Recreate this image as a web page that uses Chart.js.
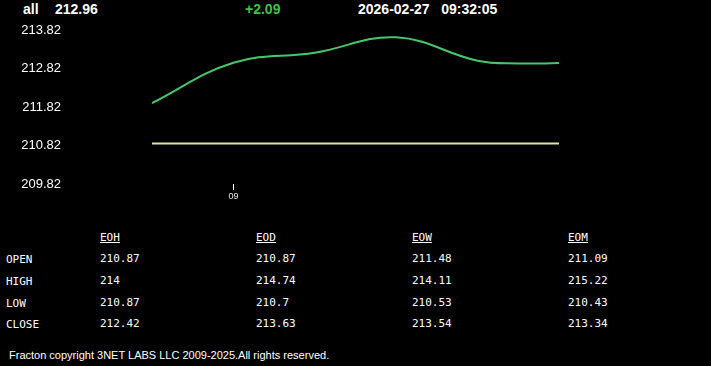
<!DOCTYPE html>
<html>
<head>
<meta charset="utf-8">
<script src="https://cdn.jsdelivr.net/npm/chart.js@4.4.1/dist/chart.umd.min.js"></script>
<style>
  html, body { margin: 0; padding: 0; background: #000; width: 711px; height: 366px; overflow: hidden; }
  .hdr { position: absolute; top: 1px; font: bold 14px "Liberation Sans", Arial, sans-serif; color: #fff; white-space: pre; }
  #chartWrap { position: absolute; left: 0; top: 0; width: 711px; height: 205px; }
  .cell { position: absolute; font: 11px "DejaVu Sans Mono", monospace; color: #fff; white-space: pre; }
  .cell.head { text-decoration: underline; }
  #foot { position: absolute; left: 9px; top: 349px; font: 11px "Liberation Sans", Arial, sans-serif; color: #fff; }
</style>
</head>
<body>
<div class="hdr" style="left:23px">all</div>
<div class="hdr" id="last" style="left:55px"></div>
<div class="hdr" id="chg" style="left:245px;color:#3ec43e"></div>
<div class="hdr" id="stamp" style="left:358px"></div>
<div id="chartWrap"><canvas id="myChart" width="711" height="205"></canvas></div>
<div id="table"></div>
<div id="foot">Fracton copyright 3NET LABS LLC 2009-2025.All rights reserved.</div>
<script>
// price track (time -> price)
const times = ['08:52', '09:00', '09:08', '09:16', '09:24', '09:28', '09:32'];
const prices = [211.92, 212.97, 213.23, 213.63, 213.02, 212.95, 212.96];
const openPrice = 210.87;
const yTicks = [209.82, 210.82, 211.82, 212.82, 213.82];
const xTickLabels = { '09:00': '09' };

// summary table
const periods = ['EOH', 'EOD', 'EOW', 'EOM'];
const rowNames = ['OPEN', 'HIGH', 'LOW', 'CLOSE'];
const openVals = ['210.87', '210.87', '211.48', '211.09'];
const highVals = ['214', '214.74', '214.11', '215.22'];
const lowVals = ['210.87', '210.7', '210.53', '210.43'];
const closeVals = ['212.42', '213.63', '213.54', '213.34'];

const stampText = '2026-02-27   09:32:05';

const toMin = t => { const p = t.split(':'); return (+p[0]) * 60 + (+p[1]); };
const t0 = toMin(times[0]);

document.getElementById('last').textContent = prices[prices.length - 1].toFixed(2);
const change = prices[prices.length - 1] - openPrice;
document.getElementById('chg').textContent = (change >= 0 ? '+' : '') + change.toFixed(2);
document.getElementById('stamp').textContent = stampText;

// table
const tbl = document.getElementById('table');
const rows = [openVals, highVals, lowVals, closeVals];
const colX = [100, 256, 412, 568];
const rowY = [231, 252, 274, 296, 317];
periods.forEach((p, i) => {
  const d = document.createElement('div');
  d.className = 'cell head';
  d.style.left = colX[i] + 'px';
  d.style.top = rowY[0] + 'px';
  d.textContent = p;
  tbl.appendChild(d);
});
rowNames.forEach((n, r) => {
  const d = document.createElement('div');
  d.className = 'cell';
  d.style.left = '6px';
  d.style.top = (rowY[r + 1] + 1) + 'px';
  d.textContent = n;
  tbl.appendChild(d);
  rows[r].forEach((v, i) => {
    const c = document.createElement('div');
    c.className = 'cell';
    c.style.left = colX[i] + 'px';
    c.style.top = rowY[r + 1] + 'px';
    c.textContent = v;
    tbl.appendChild(c);
  });
});

const ctx = document.getElementById('myChart').getContext('2d');
new Chart(ctx, {
  type: 'line',
  data: {
    datasets: [
      {
        data: times.map((t, i) => ({ x: toMin(t) - t0, y: prices[i] })),
        borderColor: '#46c86a',
        borderWidth: 2,
        pointRadius: 0,
        tension: 0.4
      },
      {
        data: [{ x: 0, y: openPrice }, { x: toMin(times[times.length - 1]) - t0, y: openPrice }],
        borderColor: '#dfe696',
        borderWidth: 2,
        pointRadius: 0
      }
    ]
  },
  options: {
    responsive: false,
    devicePixelRatio: 1,
    animation: false,
    layout: { padding: { top: 30, right: 152, left: 0, bottom: 0 } },
    plugins: { legend: { display: false }, tooltip: { enabled: false } },
    scales: {
      x: {
        type: 'linear',
        min: 0,
        max: toMin(times[times.length - 1]) - t0,
        afterBuildTicks: s => {
          s.ticks = Object.keys(xTickLabels).map(t => ({ value: toMin(t) - t0 }));
        },
        afterFit: s => { s.height = 21; },
        border: { display: false },
        grid: { drawOnChartArea: false, color: '#fff', tickLength: 6, tickWidth: 1 },
        ticks: {
          color: '#e8e8e8',
          font: { size: 9, family: 'Liberation Sans, Arial' },
          padding: 1,
          autoSkip: false,
          maxRotation: 0,
          callback: v => {
            const hit = Object.keys(xTickLabels).find(t => toMin(t) - t0 === v);
            return hit ? xTickLabels[hit] : '';
          }
        }
      },
      y: {
        min: yTicks[0],
        max: yTicks[yTicks.length - 1],
        afterBuildTicks: s => { s.ticks = yTicks.map(v => ({ value: v })); },
        afterFit: s => { s.width = 152; s.paddingTop = 0; s.paddingBottom = 0; },
        border: { display: false },
        grid: { display: false, drawTicks: false },
        ticks: {
          color: '#fff',
          font: { size: 13, family: 'Liberation Sans, Arial' },
          padding: 91,
          crossAlign: 'near',
          callback: v => v.toFixed(2)
        }
      }
    }
  }
});
</script>
</body>
</html>
